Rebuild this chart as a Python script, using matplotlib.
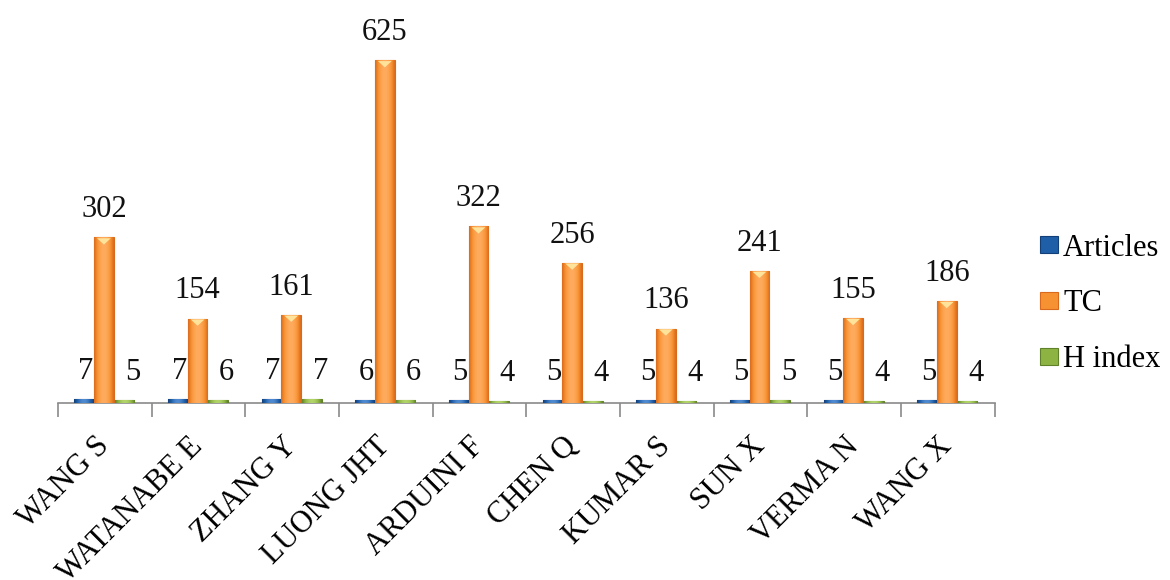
import numpy as np
import matplotlib
matplotlib.use('Agg')
import matplotlib.pyplot as plt
from matplotlib.colors import LinearSegmentedColormap
from matplotlib.patches import Polygon
import matplotlib.transforms as mtrans

authors = ['WANG S', 'WATANABE E', 'ZHANG Y', 'LUONG JHT', 'ARDUINI F',
           'CHEN Q', 'KUMAR S', 'SUN X', 'VERMA N', 'WANG X']
articles = [7, 7, 7, 6, 5, 5, 5, 5, 5, 5]
tc = [302, 154, 161, 625, 322, 256, 136, 241, 155, 186]
h_index = [5, 6, 7, 6, 4, 4, 4, 5, 4, 4]

series_names = ['Articles', 'TC', 'H index']
face_colors = ['#1f5fa8', '#f79232', '#8db443']
dark_colors = ['#133f78', '#d9691c', '#5f8129']
light_colors = ['#4f8ad0', '#ffab5e', '#b2d46a']

plt.rcParams['font.family'] = ['Liberation Serif', 'DejaVu Serif']

fig = plt.figure(figsize=(11.7, 5.8), dpi=100, facecolor='white')
ax = fig.add_axes([0.0496, 0.305, 0.8004, 0.662])

x = np.arange(len(authors))
width = 0.21
offsets = [-0.22, -0.01, 0.21]
label_dx = [1, 0, 6]   # points

grad = np.linspace(0, 1, 64)
grad = np.sin(grad * np.pi)[None, :]

for vals, name, fc, dc, lc, off, ldx in zip([articles, tc, h_index], series_names,
                                            face_colors, dark_colors, light_colors,
                                            offsets, label_dx):
    bars = ax.bar(x + off, vals, width, color=fc, edgecolor=dc, linewidth=0.8,
                  label=name, zorder=3)
    cmap = LinearSegmentedColormap.from_list(name, [dc, fc, lc])
    for b, v in zip(bars, vals):
        x0, w, h = b.get_x(), b.get_width(), b.get_height()
        # shaded cylinder look clipped to the bar
        im = ax.imshow(grad, cmap=cmap, extent=[x0, x0 + w, 0, h], aspect='auto',
                       interpolation='bicubic', zorder=3.1)
        im.set_clip_path(b)
        if h > 50:
            tri = Polygon([[x0 + 0.15 * w, h - 1.5], [x0 + 0.85 * w, h - 1.5],
                           [x0 + 0.5 * w, h - 13]], closed=True,
                          facecolor='#ffe39a', edgecolor='none', zorder=3.2)
            ax.add_patch(tri)
        ax.annotate(str(v), (x0 + w / 2, h), xytext=(ldx, 14.5),
                    textcoords='offset points', ha='center', va='baseline',
                    fontsize=22, color='#111111', zorder=4)

ax.set_xlim(-0.5, len(authors) - 0.5)
ax.set_ylim(0, 700)
ax.set_yticks([])
for side in ['left', 'right', 'top']:
    ax.spines[side].set_visible(False)
ax.spines['bottom'].set_color('#8a8a8a')
ax.spines['bottom'].set_linewidth(1.2)
ax.spines['bottom'].set_zorder(2)

# tick marks sit between the author groups
ax.set_xticks(np.arange(len(authors) + 1) - 0.5)
ax.set_xticklabels([])
ax.tick_params(axis='x', which='major', length=10, width=1.2, color='#8a8a8a')
ax.set_xticks(x, minor=True)
ax.set_xticklabels(authors, minor=True, rotation=45, ha='right', va='center',
                   rotation_mode='anchor', fontsize=22)
ax.tick_params(axis='x', which='minor', length=0, pad=28)
shift = mtrans.ScaledTranslation(0, 0, fig.dpi_scale_trans)
for lbl in ax.get_xticklabels(minor=True):
    lbl.set_transform(lbl.get_transform() + shift)

fig.legend(handles=ax.containers, labels=series_names, loc='center left',
           bbox_to_anchor=(0.889, 0.476), frameon=False, fontsize=22,
           borderpad=0, borderaxespad=0, handlelength=0.6, handleheight=0.45,
           handletextpad=0.15, labelspacing=0.88)

fig.savefig('out.png', dpi=100, facecolor='white')
